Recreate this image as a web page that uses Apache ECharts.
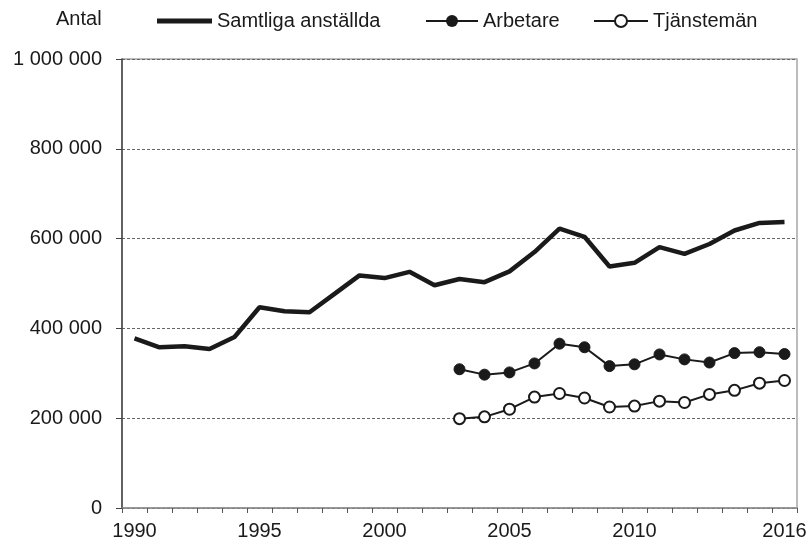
<!DOCTYPE html>
<html><head><meta charset="utf-8">
<script src="https://cdn.jsdelivr.net/npm/echarts@6/dist/echarts.min.js"></script>
<style>html,body{margin:0;padding:0;background:#fff}#c{width:812px;height:547px}</style>
</head><body><div id="c"></div>
<script>
const years = ['1990','1991','1992','1993','1994','1995','1996','1997','1998','1999','2000','2001','2002','2003','2004','2005','2006','2007','2008','2009','2010','2011','2012','2013','2014','2015','2016'];
const shownYears = ['1990','1995','2000','2005','2010','2016'];
const samtliga = [378000,358000,360000,354000,381000,447000,438000,436000,477000,518000,512000,526000,496000,510000,503000,527000,570000,622000,604000,538000,546000,581000,566000,588000,618000,635000,637000];
const arbetare = [null,null,null,null,null,null,null,null,null,null,null,null,null,309000,297000,302000,322000,366000,358000,316000,320000,342000,331000,324000,345000,347000,343000];
const tjansteman = [null,null,null,null,null,null,null,null,null,null,null,null,null,199000,203000,220000,247000,255000,245000,225000,227000,238000,235000,253000,262000,278000,284000];
const seriesNames = ['Samtliga anställda','Arbetare','Tjänstemän'];

const FONT = '"Liberation Sans", Arial, sans-serif';
const chart = echarts.init(document.getElementById('c'), null, {renderer:'canvas'});
function fmt(v){ return String(v).replace(/\B(?=(\d{3})+(?!\d))/g,' '); }
const legendText = {fontFamily: FONT, fontSize: 20, color: '#1a1a1a'};
chart.setOption({
  animation: false,
  backgroundColor: '#fff',
  graphic: [{type:'text', left: 56, top: 9, style:{text:'Antal', font:'20px "Liberation Sans", Arial, sans-serif', fill:'#1a1a1a'}}],
  legend: [
    {data:[{name: seriesNames[0], icon: 'rect', itemStyle: {color: '#1a1a1a'}}], left: 157, top: 11, itemWidth: 55, itemHeight: 5, textStyle: legendText, padding: 0},
    {data:[seriesNames[1]], left: 425, top: 11, itemWidth: 52, itemHeight: 15, textStyle: legendText, padding: 0},
    {data:[seriesNames[2]], left: 593, top: 11, itemWidth: 54, itemHeight: 15, textStyle: legendText, padding: 0}
  ],
  grid: {left: 122, right: 15, top: 59, bottom: 39, show: true, borderColor: '#a6a6a6', borderWidth: 1.5, containLabel: false},
  xAxis: {
    type: 'category', data: years, boundaryGap: true,
    axisLine: {lineStyle: {color: '#8c8c8c', width: 1.5}},
    axisTick: {show: true, interval: 0, length: 5, inside: false, lineStyle:{color:'#555'}},
    axisLabel: {interval: 0, formatter: function(v){ return shownYears.indexOf(v) >= 0 ? v : ''; }, fontFamily: FONT, fontSize: 20, color: '#1a1a1a', margin: 13},
    splitLine: {show: false}
  },
  yAxis: {
    type: 'value', min: 0, max: 1000000, interval: 200000,
    axisLine: {show: true, lineStyle: {color: '#444', width: 1.5}},
    axisTick: {show: true, length: 6, lineStyle:{color:'#444'}},
    axisLabel: {formatter: fmt, fontFamily: FONT, fontSize: 20, color: '#1a1a1a', margin: 20},
    splitLine: {show: true, lineStyle: {type: [3,2], color: '#666', width: 1}}
  },
  series: [
    {name: seriesNames[0], type: 'line', data: samtliga, symbol: 'none', lineStyle: {color: '#1a1a1a', width: 4.5}, itemStyle:{color:'#1a1a1a'}},
    {name: seriesNames[1], type: 'line', data: arbetare, symbol: 'circle', symbolSize: 11, lineStyle: {color: '#1a1a1a', width: 2}, itemStyle: {color: '#1a1a1a', borderColor:'#1a1a1a'}},
    {name: seriesNames[2], type: 'line', data: tjansteman, symbol: 'circle', symbolSize: 11, lineStyle: {color: '#1a1a1a', width: 2}, itemStyle: {color: '#fff', borderColor: '#1a1a1a', borderWidth: 2}}
  ]
});
</script></body></html>
